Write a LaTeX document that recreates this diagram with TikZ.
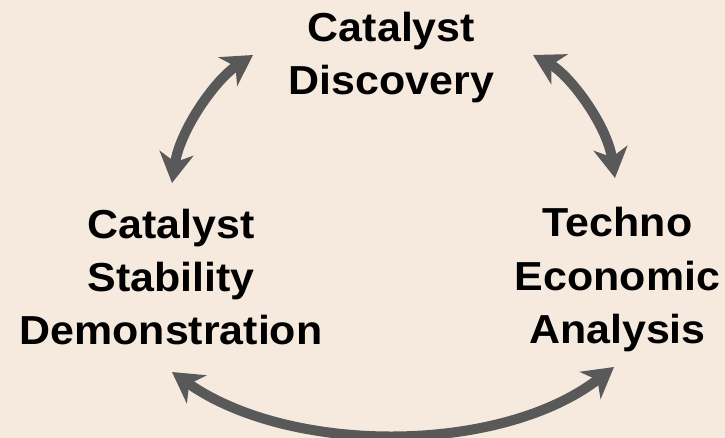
\documentclass[tikz,border=0pt]{standalone}
\usepackage{fontspec}
\setmainfont{Liberation Sans}
\usetikzlibrary{arrows.meta}
\definecolor{bgcol}{HTML}{F6EADF}
\definecolor{arrcol}{HTML}{595959}
\newcommand{\lbl}[1]{\scalebox{1.06}[1]{\begin{tabular}{@{}c@{}}#1\end{tabular}}}
\tikzset{
  label text/.style={inner sep=0pt, font=\bfseries\fontsize{40.5}{53}\selectfont, text=black},
  cycle arrow/.style={draw=arrcol, line width=10pt,
    {Stealth[length=30pt,width=34pt,inset=9pt]}-{Stealth[length=30pt,width=34pt,inset=9pt]}}
}
\begin{document}
\begin{tikzpicture}[x=1pt,y=-1pt]
\fill[bgcol] (0,0) rectangle (725,438);
\useasboundingbox (0,0) rectangle (725,438);
\node[label text] (disc) at (391.5,57.4) {\lbl{Catalyst\\Discovery}};
\node[label text] (stab) at (171,281.4) {\lbl{Catalyst\\Stability\\Demonstration}};
\node[label text] (tea) at (617.5,279.4) {\lbl{Techno\\Economic\\Analysis}};
\coordinate (a1) at (172,183);
\coordinate (a2) at (253,55);
\coordinate (b1) at (533,55);
\coordinate (b2) at (615,178);
\coordinate (c1) at (172,372);
\coordinate (c2) at (614,367);
\draw[cycle arrow] (a1) .. controls (180,130) and (215,80) .. (a2);
\draw[cycle arrow] (b1) .. controls (570,75) and (607,125) .. (b2);
\draw[cycle arrow] (c1) .. controls (290,455) and (500,455) .. (c2);
\end{tikzpicture}
\end{document}
